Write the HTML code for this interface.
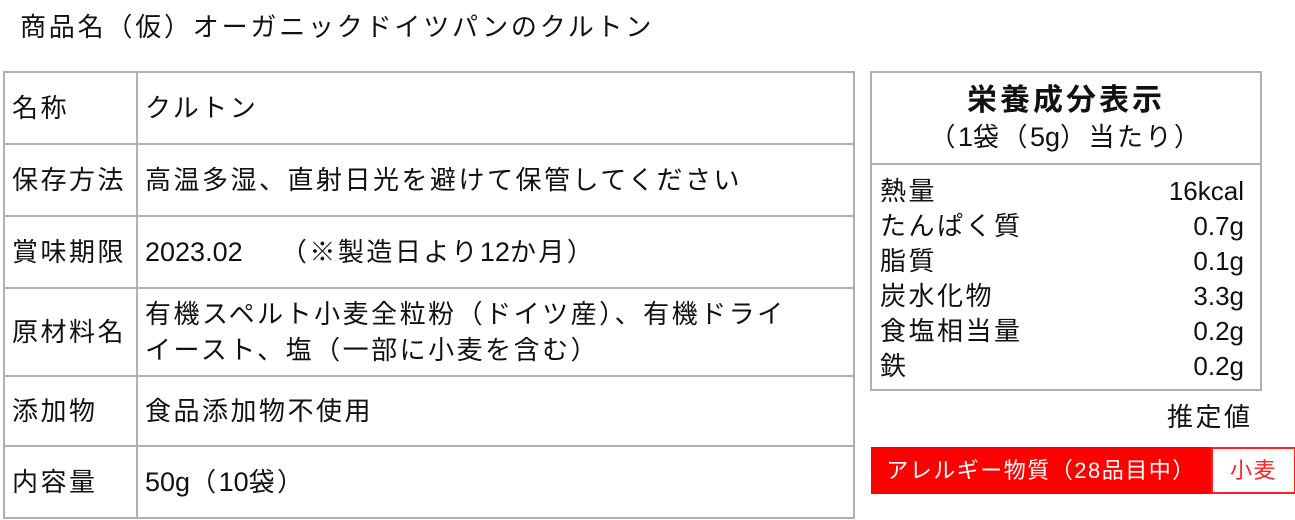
<!DOCTYPE html>
<html><head><meta charset="utf-8"><style>
body{margin:0;width:1295px;height:520px;background:#fff;position:relative;overflow:hidden;font-family:"Liberation Sans","Noto Sans CJK JP",sans-serif;color:#111;}
.a{position:absolute;white-space:nowrap;}
table{position:absolute;left:3px;top:71px;border-collapse:collapse;width:852px;}
td{border:2px solid #b0b0b0;font-size:26px;letter-spacing:2.5px;padding:0 0 0 7px;vertical-align:middle;line-height:36px;white-space:nowrap;}
td.k{width:124px;}
.l{letter-spacing:0;font-size:27px}
.n{position:absolute;left:870px;top:71px;width:388px;height:316px;border:2px solid #b0b0b0;}
.r{position:absolute;left:8px;right:16px;font-size:26px;letter-spacing:2.5px;height:35px;line-height:35px;}
.r span{float:right;letter-spacing:0}
</style></head><body>
<div class="a" style="left:20px;top:10px;font-size:26px;letter-spacing:2.8px;line-height:34px">商品名（仮）オーガニックドイツパンのクルトン</div>
<table>
<tr style="height:72px"><td class="k">名称</td><td>クルトン</td></tr>
<tr style="height:72px"><td class="k">保存方法</td><td>高温多湿、直射日光を避けて保管してください</td></tr>
<tr style="height:72px"><td class="k">賞味期限</td><td><span class="l">2023.02</span>　 （※製造日より<span class="l">12</span>か月）</td></tr>
<tr style="height:88px"><td class="k">原材料名</td><td>有機スペルト小麦全粒粉（ドイツ産）、有機ドライ<br>イースト、塩（一部に小麦を含む）</td></tr>
<tr style="height:70px"><td class="k">添加物</td><td>食品添加物不使用</td></tr>
<tr style="height:72px"><td class="k">内容量</td><td><span class="l">50g</span>（<span class="l">10</span>袋）</td></tr>
</table>
<div class="n">
<div class="a" style="left:0;right:0;top:10px;text-align:center;font-size:30px;letter-spacing:3px;font-weight:bold;line-height:36px">栄養成分表示</div>
<div class="a" style="left:0;right:0;top:48px;text-align:center;font-size:26px;letter-spacing:2.5px;line-height:32px">（<span class="l">1</span>袋（<span class="l">5g</span>）当たり）</div>
<div class="a" style="left:0;right:0;top:90px;border-top:2px solid #b0b0b0"></div>
<div class="r" style="top:101px">熱量<span>16kcal</span></div>
<div class="r" style="top:136px">たんぱく質<span>0.7g</span></div>
<div class="r" style="top:171px">脂質<span>0.1g</span></div>
<div class="r" style="top:206px">炭水化物<span>3.3g</span></div>
<div class="r" style="top:241px">食塩相当量<span>0.2g</span></div>
<div class="r" style="top:276px">鉄<span>0.2g</span></div>
</div>
<div class="a" style="left:1167px;top:400px;font-size:26px;letter-spacing:2.5px;line-height:34px">推定値</div>
<div class="a" style="left:871px;top:447px;width:340px;height:47px;background:#ff0000;color:#fff;font-size:22px;letter-spacing:1.5px;line-height:47px;text-align:center">アレルギー物質（28品目中）</div>
<div class="a" style="left:1211px;top:447px;width:81px;height:43px;border:2px solid #ff2020;color:#ff2020;font-size:22px;letter-spacing:1.5px;line-height:43px;text-align:center;background:#fff">小麦</div>
</body></html>
